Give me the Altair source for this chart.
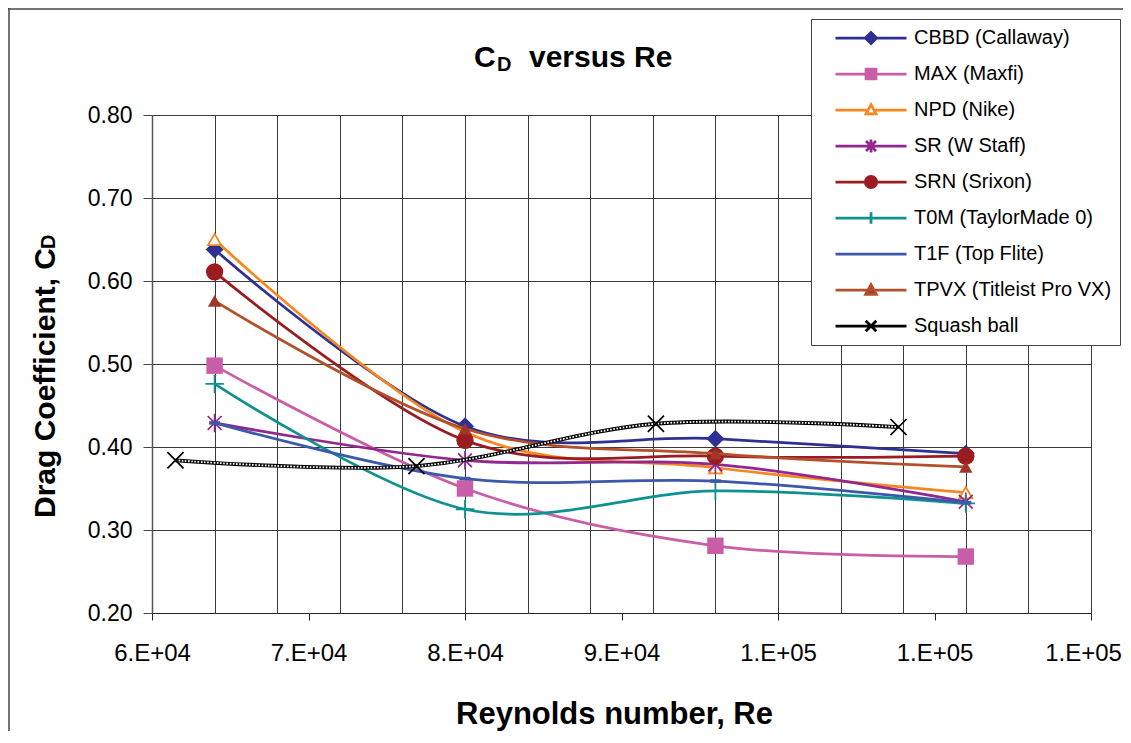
import altair as alt
import pandas as pd

# ---------------- data ----------------
names = ["CBBD (Callaway)", "MAX (Maxfi)", "NPD (Nike)", "SR (W Staff)", "SRN (Srixon)",
         "T0M (TaylorMade 0)", "T1F (Top Flite)", "TPVX (Titleist Pro VX)", "Squash ball"]
re_golf = [64000, 80000, 96000, 112000]
re_squash = [61500, 76900, 92200, 107700]
cd_cbbd = [0.638, 0.425, 0.410, 0.392]
cd_max = [0.498, 0.350, 0.281, 0.268]
cd_npd = [0.650, 0.418, 0.375, 0.345]
cd_sr = [0.429, 0.384, 0.379, 0.334]
cd_srn = [0.611, 0.408, 0.389, 0.389]
cd_t0m = [0.476, 0.325, 0.347, 0.332]
cd_t1f = [0.429, 0.362, 0.359, 0.333]
cd_tpvx = [0.576, 0.422, 0.392, 0.376]
cd_squash = [0.384, 0.377, 0.428, 0.424]

x_tick_values = [60000, 70000, 80000, 90000, 100000, 110000, 120000]
x_grid_values = [60000, 64000, 68000, 72000, 76000, 80000, 84000, 88000, 92000,
                 96000, 100000, 104000, 108000, 112000, 116000, 120000]
y_tick_values = [0.2, 0.3, 0.4, 0.5, 0.6, 0.7, 0.8]

series_cd = [cd_cbbd, cd_max, cd_npd, cd_sr, cd_srn, cd_t0m, cd_t1f, cd_tpvx, cd_squash]
series_re = [re_golf] * 8 + [re_squash]

rows = []
for n, xs, ys in zip(names, series_re, series_cd):
    for xv, yv in zip(xs, ys):
        rows.append({"series": n, "re": xv, "cd": yv})
df = pd.DataFrame(rows)

# ---------------- styles ----------------
FONT = "Liberation Sans"
line_colors = ["#2E3192", "#C95EA8", "#F7861F", "#92278F", "#9B1C20",
               "#0D928F", "#3C58A8", "#B3502C", "#000000"]
marker_colors = ["#2E3192", "#C95EA8", "#F7861F", "#92278F", "#9B1C20",
                 "#0D928F", "#3C58A8", "#A2352A", "#000000"]
legend_fills = ["#2E3192", "#C95EA8", "#FFFFFF", "#92278F", "#9B1C20",
                "#0D928F", "#3C58A8", "#A2352A", "#000000"]

ASTER = "M0,-1L0,1M-0.75,-0.75L0.75,0.75M-0.75,0.75L0.75,-0.75"
PLUS = "M-1,0L1,0M0,-1L0,1"
DASH = "M-1,0L1,0"
XMARK = "M-1,-1L1,1M-1,1L1,-1"
# (shape, size, filled, strokeWidth)
marker_specs = [
    ("diamond", 320, True, 1),
    ("square", 270, True, 1),
    ("triangle-up", 170, False, 1.8),
    (ASTER, 340, False, 1.7),
    ("circle", 300, True, 1),
    (PLUS, 340, False, 1.8),
    (DASH, 120, False, 3.5),
    ("triangle-up", 180, True, 1),
    (XMARK, 260, False, 1.7),
]

legend_paths = [
    "M-1,0L1,0M-0.16,0L0,-0.16L0.16,0L0,0.16Z",
    "M-1,0L1,0M-0.14,-0.14L0.14,-0.14L0.14,0.14L-0.14,0.14Z",
    "M-1,0L-0.12,0M0.12,0L1,0M0,-0.15L0.14,0.11L-0.14,0.11Z",
    "M-1,0L1,0M0,-0.18L0,0.18M-0.14,-0.14L0.14,0.14M-0.14,0.14L0.14,-0.14",
    "M-1,0L1,0M-0.16,0A0.16,0.16,0,1,1,0.16,0A0.16,0.16,0,1,1,-0.16,0Z",
    "M-1,0L1,0M0,-0.16L0,0.16",
    "M-1,0L1,0M-0.12,0L0.12,0",
    "M-1,0L1,0M0,-0.15L0.15,0.12L-0.15,0.12Z",
    "M-1,0L1,0M-0.15,-0.15L0.15,0.15M-0.15,0.15L0.15,-0.15",
]

xscale = alt.Scale(domain=[60000, 120000], nice=False, zero=False)
yscale = alt.Scale(domain=[0.2, 0.8], nice=False, zero=False)

x_label_expr = ("round(datum.value / pow(10, floor(log(datum.value) / LN10 + 1e-9))) + '.E+0' + "
                "floor(log(datum.value) / LN10 + 1e-9)")
X_MAIN = alt.X("re:Q", scale=xscale, axis=alt.Axis(
    orient="bottom", values=x_tick_values, grid=False, labelExpr=x_label_expr,
    labelFlush=False, labelOverlap=False,
    labelOffset={"condition": {"test": "datum.value >= 120000", "value": -8}, "value": 0},
    labelFont=FONT, labelFontSize=24, labelColor="black", tickSize=7,
    tickColor="#222222", domainColor="#222222", domainWidth=1.2, labelPadding=21,
    title="Reynolds number, Re", titleFont=FONT, titleFontSize=31,
    titleFontWeight="bold", titleColor="black", titleX=462, titleY=110,
    titleBaseline="alphabetic"))
Y_MAIN = alt.Y("cd:Q", scale=yscale, axis=alt.Axis(
    values=y_tick_values, format=".2f", grid=True, gridColor="#3a3a3a",
    gridWidth=1, gridOpacity=1, labelFont=FONT, labelFontSize=23,
    labelColor="black", tickSize=9, tickColor="#444444", domainColor="#555555",
    domainWidth=1.5, labelPadding=11, labelFlush=False, labelOverlap=False, title=None))

base = alt.Chart(df)

legend = alt.Legend(
    orient="none", legendX=659, legendY=-96, title=None, padding=8,
    strokeColor="#444444", fillColor="white", labelFont=FONT, labelFontSize=20,
    labelColor="black", labelLimit=400, symbolSize=5041, symbolStrokeWidth=2.75,
    rowPadding=14, clipHeight=22, labelOffset=6, symbolOffset=15, symbolOpacity=1,
)
# invisible points carry the legend (line + marker symbols)
legend_layer = base.mark_point(opacity=0, size=5041).encode(
    x=X_MAIN, y=Y_MAIN,
    shape=alt.Shape("series:N", scale=alt.Scale(domain=names, range=legend_paths),
                    legend=legend, sort=names),
    stroke=alt.Stroke("series:N", scale=alt.Scale(domain=names, range=line_colors),
                      legend=legend, sort=names),
    fill=alt.Fill("series:N", scale=alt.Scale(domain=names, range=legend_fills),
                  legend=legend, sort=names),
)

inner = [legend_layer]
for i, n in enumerate(names):
    sub = base.transform_filter(alt.datum.series == n)
    if n == "Squash ball":
        inner.append(sub.mark_line(color="black", strokeWidth=3.8,
                                   interpolate="cardinal").encode(x=X_MAIN, y=Y_MAIN))
        inner.append(sub.mark_line(color="white", strokeWidth=1.8, strokeDash=[1.6, 1.6],
                                   interpolate="cardinal").encode(x=X_MAIN, y=Y_MAIN))
    else:
        inner.append(sub.mark_line(color=line_colors[i], strokeWidth=2.75,
                                   interpolate="cardinal").encode(x=X_MAIN, y=Y_MAIN))
    shape, size, filled, sw = marker_specs[i]
    if n == "NPD (Nike)":
        pt = sub.mark_point(shape=shape, size=size, fill="white", stroke=marker_colors[i],
                            strokeWidth=sw, opacity=1, fillOpacity=1)
    elif filled:
        pt = sub.mark_point(shape=shape, size=size, filled=True, color=marker_colors[i],
                            opacity=1)
    else:
        pt = sub.mark_point(shape=shape, size=size, filled=False, color=marker_colors[i],
                            strokeWidth=sw, opacity=1)
    inner.append(pt.encode(x=X_MAIN, y=Y_MAIN))
inner_chart = alt.layer(*inner)

# vertical grid lines come from a second (label-less) x axis
grid_layer = base.mark_point(opacity=0).encode(
    x=alt.X("re:Q", scale=xscale, axis=alt.Axis(
        orient="bottom", values=x_grid_values, grid=True, labels=False, ticks=False,
        domain=False, title=None, gridColor="#3a3a3a", gridWidth=1, gridOpacity=1)),
    y=Y_MAIN,
)

# title pieces (C with subscript D) and y-axis title
one = alt.Data(values=[{"k": 1}])
def txt(text, x, y, size, angle=0):
    return alt.Chart(one).mark_text(
        text=text, font=FONT, fontSize=size, fontWeight="bold", color="black",
        align="left", baseline="alphabetic", angle=angle,
    ).encode(x=alt.value(x), y=alt.value(y))

extras = [
    txt("C", 322, -48, 30),
    txt("D", 345, -44.5, 20),
    txt("versus Re", 377, -48, 30),
    txt("Drag Coefficient, C", -97, 403, 30, angle=270),
    txt("D", -97, 134, 20, angle=270),
    alt.Chart(one).mark_rule(color="#444444", strokeWidth=1.5).encode(
        x=alt.value(-143), y=alt.value(-108), y2=alt.value(620)),
    alt.Chart(one).mark_rule(color="#444444", strokeWidth=1.5).encode(
        x=alt.value(-144), x2=alt.value(980), y=alt.value(-106)),
]

chart = alt.layer(grid_layer, inner_chart, *extras).resolve_axis(x="independent").properties(
    width=939, height=498,
    padding={"left": 144, "top": 107, "right": 32, "bottom": 118},
    autosize=alt.AutoSizeParams(type="none"),
).configure_view(stroke=None)

chart.save("out.html", embed_options={"renderer": "svg", "actions": False})
